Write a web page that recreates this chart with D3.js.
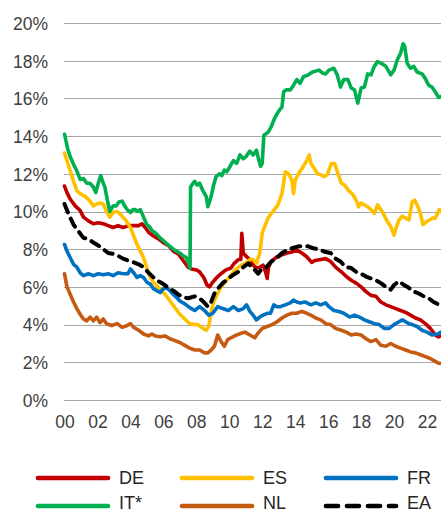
<!DOCTYPE html>
<html>
<head>
<meta charset="utf-8">
<script src="https://cdn.jsdelivr.net/npm/d3@7"></script>
<style>
  html, body { margin: 0; padding: 0; background: #fff; }
  svg { display: block; font-family: "Liberation Sans", Arial, sans-serif; }
</style>
</head>
<body>
<svg id="chart" width="441" height="513"></svg>
<script>
// ---- data (year as decimal, value in %) ----
const seriesNames = ["DE", "ES", "FR", "IT*", "NL", "EA"];
const yTicks = [0, 2, 4, 6, 8, 10, 12, 14, 16, 18, 20];
const xTicks = [2000, 2002, 2004, 2006, 2008, 2010, 2012, 2014, 2016, 2018, 2020, 2022];
const xTickLabels = ["00", "02", "04", "06", "08", "10", "12", "14", "16", "18", "20", "22"];

const DE = [[2000.0,11.35],[2000.15,11.0],[2000.35,10.65],[2000.65,10.3],[2000.95,10.05],[2001.15,9.7],[2001.45,9.5],[2001.75,9.35],[2002.05,9.4],[2002.35,9.35],[2002.65,9.25],[2002.95,9.15],[2003.25,9.25],[2003.55,9.15],[2003.9,9.25],[2004.2,9.25],[2004.5,9.25],[2004.7,9.35],[2004.9,9.15],[2005.1,8.9],[2005.4,8.7],[2005.7,8.55],[2006.0,8.35],[2006.3,8.2],[2006.6,7.9],[2006.9,7.75],[2007.2,7.4],[2007.5,7.05],[2007.7,6.95],[2008.0,6.9],[2008.2,6.8],[2008.45,6.5],[2008.65,6.1],[2008.8,6.0],[2008.95,6.2],[2009.1,6.35],[2009.3,6.55],[2009.5,6.7],[2009.8,6.9],[2010.1,7.0],[2010.3,7.25],[2010.55,7.45],[2010.7,7.45],[2010.76,8.85],[2010.85,7.8],[2011.05,7.6],[2011.25,7.45],[2011.45,7.15],[2011.65,7.0],[2011.85,7.05],[2012.05,7.15],[2012.2,6.8],[2012.3,6.45],[2012.38,7.05],[2012.55,7.35],[2012.9,7.6],[2013.2,7.7],[2013.5,7.8],[2013.8,7.85],[2014.1,7.95],[2014.4,7.8],[2014.7,7.6],[2015.0,7.3],[2015.2,7.4],[2015.55,7.45],[2015.85,7.5],[2016.15,7.35],[2016.45,7.05],[2016.8,6.8],[2017.1,6.55],[2017.4,6.35],[2017.7,6.2],[2018.0,6.0],[2018.3,5.75],[2018.6,5.55],[2018.9,5.5],[2019.2,5.2],[2019.5,5.05],[2019.8,4.95],[2020.1,4.85],[2020.4,4.75],[2020.7,4.65],[2021.0,4.5],[2021.3,4.35],[2021.6,4.25],[2021.9,4.05],[2022.2,3.8],[2022.5,3.45],[2022.7,3.35],[2022.85,3.4]];

const ES = [[2000.0,13.1],[2000.15,12.7],[2000.35,12.15],[2000.55,11.6],[2000.75,11.1],[2000.95,10.95],[2001.25,10.8],[2001.55,10.55],[2001.75,10.3],[2001.95,10.4],[2002.15,10.45],[2002.35,10.4],[2002.55,10.0],[2002.75,9.7],[2002.95,9.95],[2003.2,10.0],[2003.4,9.85],[2003.55,9.7],[2003.75,9.5],[2004.0,9.15],[2004.2,8.7],[2004.4,8.25],[2004.6,7.9],[2004.8,7.55],[2005.0,7.0],[2005.2,6.5],[2005.4,6.25],[2005.6,6.05],[2005.8,5.9],[2006.1,5.6],[2006.4,5.25],[2006.7,4.9],[2007.0,4.55],[2007.3,4.3],[2007.6,4.05],[2007.9,4.0],[2008.1,4.0],[2008.4,3.8],[2008.6,3.7],[2008.75,3.9],[2008.93,4.8],[2009.1,5.3],[2009.3,5.65],[2009.5,6.0],[2009.7,6.2],[2010.05,6.55],[2010.35,6.9],[2010.65,7.1],[2010.95,7.25],[2011.25,7.45],[2011.45,7.45],[2011.65,7.25],[2011.85,7.8],[2012.0,8.85],[2012.15,9.2],[2012.35,9.65],[2012.55,9.9],[2012.75,10.1],[2012.95,10.35],[2013.2,10.95],[2013.4,12.1],[2013.6,12.0],[2013.8,11.65],[2013.9,10.95],[2014.0,11.65],[2014.2,12.0],[2014.5,12.4],[2014.7,12.7],[2014.85,13.0],[2014.95,12.55],[2015.15,12.3],[2015.35,12.0],[2015.55,11.95],[2015.75,11.85],[2015.95,11.95],[2016.2,12.55],[2016.4,12.55],[2016.6,12.0],[2016.8,11.5],[2017.0,11.4],[2017.2,11.15],[2017.5,10.9],[2017.7,10.6],[2017.85,10.25],[2018.0,10.45],[2018.2,10.35],[2018.4,10.25],[2018.6,10.1],[2018.8,9.9],[2019.0,10.35],[2019.2,10.1],[2019.4,9.8],[2019.6,9.45],[2019.8,9.2],[2020.0,8.75],[2020.15,9.2],[2020.3,9.55],[2020.5,9.75],[2020.7,9.65],[2020.9,9.55],[2021.1,10.5],[2021.25,10.6],[2021.4,10.35],[2021.6,9.9],[2021.75,9.3],[2021.95,9.45],[2022.15,9.55],[2022.35,9.65],[2022.5,9.65],[2022.75,10.1],[2022.85,10.0]];

const FR = [[2000.0,8.25],[2000.15,7.9],[2000.35,7.55],[2000.55,7.2],[2000.75,7.05],[2000.95,6.75],[2001.15,6.6],[2001.45,6.7],[2001.75,6.6],[2002.05,6.7],[2002.35,6.65],[2002.65,6.7],[2002.95,6.6],[2003.25,6.75],[2003.55,6.7],[2003.85,6.7],[2004.0,6.95],[2004.2,6.75],[2004.4,6.5],[2004.6,6.6],[2004.8,6.5],[2005.0,6.25],[2005.2,6.15],[2005.4,5.9],[2005.6,5.8],[2005.8,5.7],[2006.0,5.9],[2006.2,5.95],[2006.4,5.8],[2006.6,5.6],[2006.8,5.45],[2007.0,5.25],[2007.3,5.1],[2007.6,4.9],[2007.9,4.75],[2008.2,4.95],[2008.5,4.75],[2008.75,4.5],[2009.0,4.6],[2009.3,4.95],[2009.6,4.85],[2009.95,4.75],[2010.25,4.95],[2010.55,4.75],[2010.85,4.85],[2011.05,5.05],[2011.25,4.7],[2011.45,4.5],[2011.65,4.25],[2011.85,4.4],[2012.05,4.5],[2012.3,4.6],[2012.5,4.6],[2012.7,5.05],[2012.9,4.95],[2013.1,4.95],[2013.4,5.05],[2013.7,5.15],[2013.9,5.3],[2014.1,5.2],[2014.3,5.15],[2014.6,5.2],[2014.95,5.05],[2015.25,5.15],[2015.55,5.05],[2015.85,5.15],[2016.05,4.95],[2016.35,4.75],[2016.65,4.7],[2016.95,4.6],[2017.3,4.4],[2017.6,4.5],[2017.9,4.4],[2018.2,4.25],[2018.5,4.15],[2018.8,4.05],[2019.1,4.0],[2019.4,3.8],[2019.7,3.8],[2020.0,4.0],[2020.3,4.15],[2020.5,4.25],[2020.7,4.15],[2020.9,4.05],[2021.1,4.0],[2021.4,3.9],[2021.7,3.7],[2022.0,3.6],[2022.3,3.45],[2022.65,3.5],[2022.85,3.6]];

const IT = [[2000.0,14.1],[2000.2,13.3],[2000.35,12.9],[2000.55,12.5],[2000.75,12.15],[2000.95,11.7],[2001.15,11.75],[2001.35,11.5],[2001.55,11.5],[2001.75,11.3],[2001.9,11.0],[2002.05,11.5],[2002.2,11.9],[2002.35,11.5],[2002.45,11.3],[2002.6,10.6],[2002.75,10.0],[2002.95,10.3],[2003.15,10.3],[2003.3,10.5],[2003.5,10.55],[2003.65,10.3],[2003.8,10.1],[2004.0,9.95],[2004.15,10.1],[2004.3,10.1],[2004.45,10.0],[2004.6,10.1],[2004.8,9.7],[2005.0,9.3],[2005.15,9.2],[2005.3,9.0],[2005.45,8.9],[2005.6,8.8],[2005.8,8.6],[2006.0,8.45],[2006.2,8.3],[2006.4,8.15],[2006.6,8.0],[2006.8,7.9],[2007.0,7.8],[2007.2,7.65],[2007.4,7.55],[2007.55,7.2],[2007.62,7.0],[2007.65,11.3],[2007.8,11.5],[2007.9,11.6],[2008.05,11.4],[2008.2,11.5],[2008.4,11.1],[2008.6,10.8],[2008.7,10.25],[2008.9,10.8],[2009.05,11.4],[2009.2,11.85],[2009.4,12.0],[2009.55,11.9],[2009.7,12.2],[2009.85,12.1],[2010.05,12.4],[2010.25,12.7],[2010.45,12.55],[2010.65,13.0],[2010.85,12.8],[2011.0,12.9],[2011.25,13.2],[2011.45,13.0],[2011.65,13.25],[2011.8,12.7],[2011.9,12.4],[2012.0,12.55],[2012.1,14.05],[2012.35,14.2],[2012.55,14.5],[2012.75,14.95],[2012.98,15.3],[2013.2,15.55],[2013.3,16.35],[2013.45,16.45],[2013.7,16.45],[2013.9,16.7],[2014.1,17.0],[2014.3,16.8],[2014.5,17.15],[2014.8,17.25],[2015.05,17.4],[2015.45,17.5],[2015.65,17.35],[2015.85,17.3],[2016.05,17.5],[2016.35,17.6],[2016.55,17.25],[2016.75,16.6],[2016.95,17.0],[2017.2,17.0],[2017.4,16.55],[2017.6,16.45],[2017.8,15.75],[2018.0,16.55],[2018.2,16.6],[2018.4,17.3],[2018.6,17.25],[2018.8,17.7],[2019.0,17.95],[2019.25,17.85],[2019.5,17.7],[2019.8,17.25],[2020.0,17.5],[2020.2,18.05],[2020.4,18.4],[2020.55,18.9],[2020.65,18.75],[2020.8,17.85],[2021.0,17.6],[2021.2,17.7],[2021.4,17.4],[2021.7,17.3],[2021.9,17.05],[2022.1,16.7],[2022.3,16.6],[2022.5,16.35],[2022.7,16.05],[2022.85,16.1]];

const NL = [[2000.0,6.7],[2000.15,6.0],[2000.35,5.6],[2000.55,5.2],[2000.75,4.85],[2000.95,4.55],[2001.15,4.3],[2001.35,4.2],[2001.55,4.4],[2001.75,4.2],[2001.95,4.4],[2002.15,4.1],[2002.35,4.3],[2002.55,4.05],[2002.85,3.95],[2003.2,4.05],[2003.5,3.85],[2003.8,3.95],[2004.0,4.05],[2004.2,3.85],[2004.5,3.7],[2004.8,3.5],[2005.1,3.4],[2005.3,3.5],[2005.5,3.4],[2005.8,3.35],[2006.1,3.4],[2006.4,3.25],[2006.7,3.15],[2007.0,3.05],[2007.3,2.9],[2007.6,2.75],[2007.9,2.65],[2008.2,2.65],[2008.5,2.5],[2008.7,2.5],[2008.9,2.65],[2009.1,2.85],[2009.3,3.45],[2009.5,3.1],[2009.7,2.85],[2009.9,3.2],[2010.1,3.3],[2010.45,3.45],[2010.75,3.55],[2010.95,3.6],[2011.25,3.45],[2011.55,3.3],[2011.75,3.55],[2012.0,3.8],[2012.3,3.9],[2012.6,4.0],[2012.9,4.15],[2013.2,4.35],[2013.5,4.5],[2013.8,4.6],[2014.1,4.6],[2014.4,4.7],[2014.7,4.6],[2014.95,4.5],[2015.25,4.35],[2015.55,4.25],[2015.85,4.05],[2016.15,4.0],[2016.45,3.8],[2016.8,3.7],[2017.1,3.6],[2017.4,3.45],[2017.7,3.5],[2018.0,3.45],[2018.3,3.25],[2018.6,3.1],[2018.9,3.2],[2019.2,2.9],[2019.5,2.85],[2019.8,3.0],[2020.1,2.85],[2020.4,2.75],[2020.7,2.65],[2021.0,2.55],[2021.3,2.5],[2021.6,2.4],[2021.9,2.3],[2022.2,2.2],[2022.5,2.05],[2022.7,1.95],[2022.85,1.95]];

const EA = [[2000.0,10.4],[2000.25,9.85],[2000.55,9.3],[2000.85,8.95],[2001.15,8.6],[2001.45,8.55],[2001.75,8.35],[2002.05,8.2],[2002.35,8.0],[2002.65,7.8],[2002.95,7.75],[2003.25,7.65],[2003.55,7.5],[2003.85,7.4],[2004.2,7.3],[2004.5,7.2],[2004.8,7.05],[2005.1,6.75],[2005.4,6.5],[2005.7,6.3],[2006.0,6.15],[2006.3,5.95],[2006.6,5.8],[2006.9,5.6],[2007.2,5.45],[2007.5,5.4],[2007.9,5.5],[2008.2,5.4],[2008.5,5.15],[2008.7,4.95],[2008.9,5.2],[2009.1,5.65],[2009.3,5.9],[2009.6,6.2],[2009.95,6.45],[2010.25,6.65],[2010.55,6.8],[2010.85,7.05],[2011.15,7.25],[2011.35,7.05],[2011.55,6.9],[2011.75,6.7],[2012.0,7.0],[2012.25,7.05],[2012.55,7.35],[2012.85,7.5],[2013.2,7.8],[2013.5,7.95],[2013.8,8.05],[2014.2,8.15],[2014.5,8.15],[2014.8,8.15],[2015.1,8.05],[2015.4,8.0],[2015.85,7.85],[2016.15,7.8],[2016.45,7.5],[2016.75,7.35],[2017.05,7.05],[2017.4,7.0],[2017.7,6.8],[2018.0,6.7],[2018.3,6.55],[2018.6,6.45],[2018.9,6.35],[2019.2,6.2],[2019.5,6.0],[2019.8,5.85],[2020.0,6.1],[2020.3,6.3],[2020.6,6.1],[2020.9,5.95],[2021.2,5.75],[2021.5,5.65],[2021.8,5.5],[2022.1,5.4],[2022.4,5.2],[2022.75,5.05],[2022.85,5.0]];

const seriesData = [DE, ES, FR, IT, NL, EA];
const seriesColors = ["#C00000", "#FFC000", "#0070C0", "#00B050", "#C55A11", "#000000"];

// ---- layout ----
const svg = d3.select("#chart");
const x = d3.scaleLinear().domain([2000, 2022]).range([64.5, 427]);
const y = d3.scaleLinear().domain([0, 20]).range([400, 23]);
const plotLeft = 64, plotRight = 441;

// gridlines
svg.append("g").selectAll("line").data(yTicks).join("line")
  .attr("x1", plotLeft).attr("x2", plotRight)
  .attr("y1", d => Math.round(y(d)) + 0.5).attr("y2", d => Math.round(y(d)) + 0.5)
  .attr("stroke", "#A6A6A6").attr("stroke-width", 1);

// y axis labels
const yAxis = d3.axisLeft(y).tickValues(yTicks).tickFormat(d => d + "%").tickSize(0).tickPadding(0);
const gy = svg.append("g").attr("transform", "translate(48,0)").call(yAxis);
gy.select(".domain").remove();
gy.selectAll("text").attr("font-size", 17.5).attr("fill", "#404040")
  .attr("font-family", "Liberation Sans, Arial, sans-serif").attr("dy", "0.36em");

// x axis labels
const xAxis = d3.axisBottom(x).tickValues(xTicks).tickFormat((d, i) => xTickLabels[i]).tickSize(0).tickPadding(0);
const gx = svg.append("g").attr("transform", "translate(0,415)").call(xAxis);
gx.select(".domain").remove();
gx.selectAll("text").attr("font-size", 17.5).attr("fill", "#404040")
  .attr("font-family", "Liberation Sans, Arial, sans-serif").attr("dy", "0.75em");

// lines
const line = d3.line().x(d => x(d[0])).y(d => y(d[1])).curve(d3.curveLinear);
seriesData.forEach((data, i) => {
  const p = svg.append("path").datum(data)
    .attr("d", line)
    .attr("fill", "none")
    .attr("stroke", seriesColors[i])
    .attr("stroke-width", 3.6)
    .attr("stroke-linejoin", "round");
  if (seriesNames[i] === "EA") {
    p.attr("stroke-dasharray", "9,7").attr("stroke-linecap", "round").attr("stroke-width", 4);
  } else {
    p.attr("stroke-linecap", "round");
  }
});

// legend
const legendCols = [{x1: 38, x2: 108, tx: 119}, {x1: 182, x2: 252, tx: 263}, {x1: 326, x2: 396, tx: 407}];
const legendRows = [478, 506];
const legendBase = [483.5, 509];
const legend = svg.append("g");
seriesNames.forEach((name, i) => {
  const col = legendCols[i % 3];
  const r = Math.floor(i / 3);
  const ry = legendRows[r];
  const l = legend.append("line")
    .attr("x1", col.x1).attr("x2", col.x2).attr("y1", ry).attr("y2", ry)
    .attr("stroke", seriesColors[i]).attr("stroke-width", 4.7).attr("stroke-linecap", "round");
  if (name === "EA") l.attr("stroke-dasharray", "12,9");
  legend.append("text")
    .attr("x", col.tx).attr("y", legendBase[r])
    .attr("font-size", 18).attr("fill", "#262626")
    .attr("font-family", "Liberation Sans, Arial, sans-serif")
    .text(name);
});
</script>
</body>
</html>
